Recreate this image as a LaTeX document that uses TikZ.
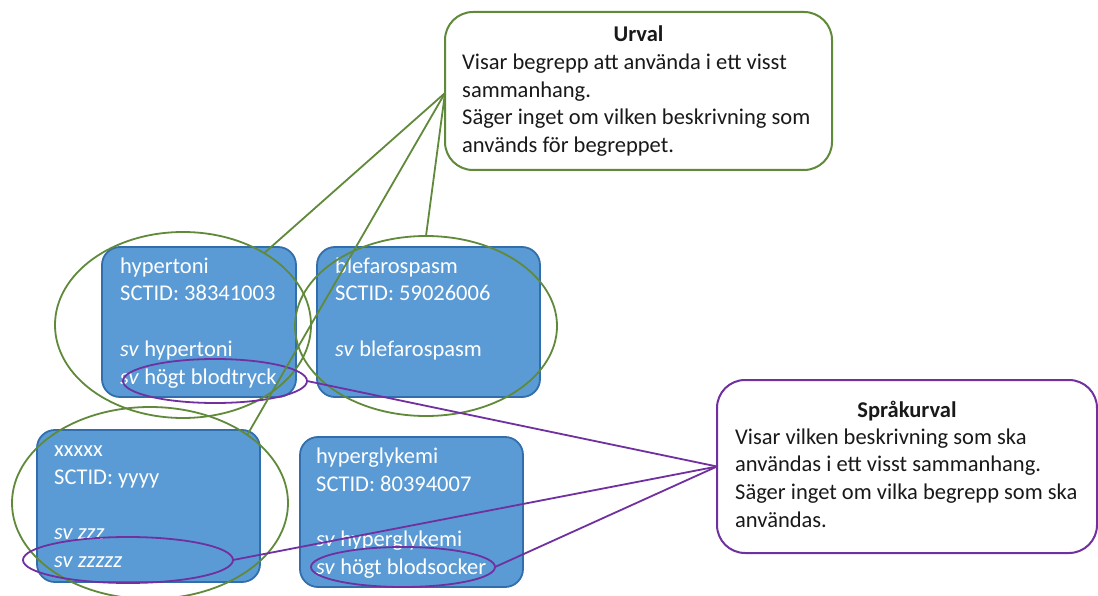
\documentclass[tikz,border=0pt]{standalone}
\usepackage{fontspec}
\setmainfont{Carlito}
\usetikzlibrary{shapes.geometric}
\definecolor{boxblue}{RGB}{91,155,213}
\definecolor{boxedge}{RGB}{50,110,172}
\definecolor{ugreen}{RGB}{96,138,58}
\definecolor{upurple}{RGB}{112,48,160}
\definecolor{txt}{RGB}{25,25,25}
\begin{document}
\begin{tikzpicture}[x=1pt,y=-1pt,
  conceptbox/.style={draw=boxedge, line width=1.8pt, fill=boxblue, rounded corners=18pt,
    inner sep=0pt, outer sep=0pt, anchor=north west},
  calloutbox/.style={line width=2pt, rounded corners=28pt, inner sep=0pt, outer sep=0pt,
    anchor=north west, fill=white},
  wtext/.style={anchor=base west, inner sep=0pt, text=white, font=\fontsize{22.5}{27.5}\selectfont},
  btext/.style={anchor=base west, inner sep=0pt, text=txt, font=\fontsize{22.5}{27.5}\selectfont},
  ttext/.style={anchor=base, inner sep=0pt, text=txt, font=\fontsize{22.5}{27.5}\selectfont\bfseries},
  gring/.style={ellipse, draw=ugreen, line width=1.8pt, inner sep=0pt, outer sep=0pt},
  pring/.style={ellipse, draw=upurple, line width=1.8pt, inner sep=0pt, outer sep=0pt},
  gline/.style={draw=ugreen, line width=1.8pt},
  pline/.style={draw=upurple, line width=1.8pt}
]
\useasboundingbox[fill=white] (0,0) rectangle (1098,596);

% concept boxes
\node[conceptbox, minimum width=194pt, minimum height=150pt] (c1) at (102,247) {};
\node[conceptbox, minimum width=223pt, minimum height=150pt] (c2) at (317,247) {};
\node[conceptbox, minimum width=223pt, minimum height=152pt] (c3) at (37,430) {};
\node[conceptbox, minimum width=223pt, minimum height=150pt] (c4) at (300,437) {};

% box 1 text
\node[wtext] (c1a) at (120,273) {hypertoni};
\node[wtext] (c1b) at (120,301) {SCTID: 38341003};
\node[wtext] (c1c) at (120,356) {\textit{sv} hypertoni};
\node[wtext] (c1d) at (120,384) {\textit{sv} högt blodtryck};
% box 2 text
\node[wtext] (c2a) at (335,273) {blefarospasm};
\node[wtext] (c2b) at (335,301) {SCTID: 59026006};
\node[wtext] (c2c) at (335,356) {\textit{sv} blefarospasm};
% box 3 text
\node[wtext] (c3a) at (54,456) {xxxxx};
\node[wtext] (c3b) at (54,484) {SCTID: yyyy};
\node[wtext] (c3c) at (54,539) {\textit{sv zzz}};
\node[wtext] (c3d) at (54,567) {\textit{sv zzzzz}};
% box 4 text
\node[wtext] (c4a) at (316,463) {hyperglykemi};
\node[wtext] (c4b) at (316,491) {SCTID: 80394007};
\node[wtext] (c4c) at (316,546) {\textit{sv} hyperglykemi};
\node[wtext] (c4d) at (316,574) {\textit{sv} högt blodsocker};

% callout boxes
\node[calloutbox, draw=ugreen, minimum width=387pt, minimum height=158pt] (urval) at (445,12) {};
\node[ttext] (urvalt) at (638.5,42) {Urval};
\node[btext] (urval1) at (462,70) {Visar begrepp att använda i ett visst};
\node[btext] (urval2) at (462,97.5) {sammanhang.};
\node[btext] (urval3) at (462,125) {Säger inget om vilken beskrivning som};
\node[btext] (urval4) at (462,152.5) {används för begreppet.};

\node[calloutbox, draw=upurple, minimum width=380pt, minimum height=173pt] (spr) at (717,380) {};
\node[ttext] (sprt) at (907,417) {Språkurval};
\node[btext] (spr1) at (735,444) {Visar vilken beskrivning som ska};
\node[btext] (spr2) at (735,471) {användas i ett visst sammanhang.};
\node[btext] (spr3) at (735,499) {Säger inget om vilka begrepp som ska};
\node[btext] (spr4) at (735,527) {användas.};

% green rings
\node[gring, minimum width=256pt, minimum height=186pt] (e1) at (183,325) {};
\node[gring, minimum width=262pt, minimum height=180pt] (e2) at (426,326) {};
\node[gring, minimum width=276pt, minimum height=192pt] (e3) at (150,503) {};

% purple rings
\node[pring, minimum width=184pt, minimum height=44pt] (p1) at (215,381) {};
\node[pring, minimum width=210pt, minimum height=46pt] (p2) at (128,560) {};
\node[pring, minimum width=184pt, minimum height=40pt] (p3) at (403,567) {};

% connectors
\coordinate (ua) at ([yshift=-2pt]urval.west);
\draw[gline] (ua) -- (e1);
\draw[gline] (ua) -- (e2.north);
\draw[gline] (ua) -- (e3.35);
\draw[pline] (spr.west) -- (p1.east);
\draw[pline] (spr.west) -- (p2.east);
\draw[pline] (spr.west) -- (p3.east);
\end{tikzpicture}
\end{document}
